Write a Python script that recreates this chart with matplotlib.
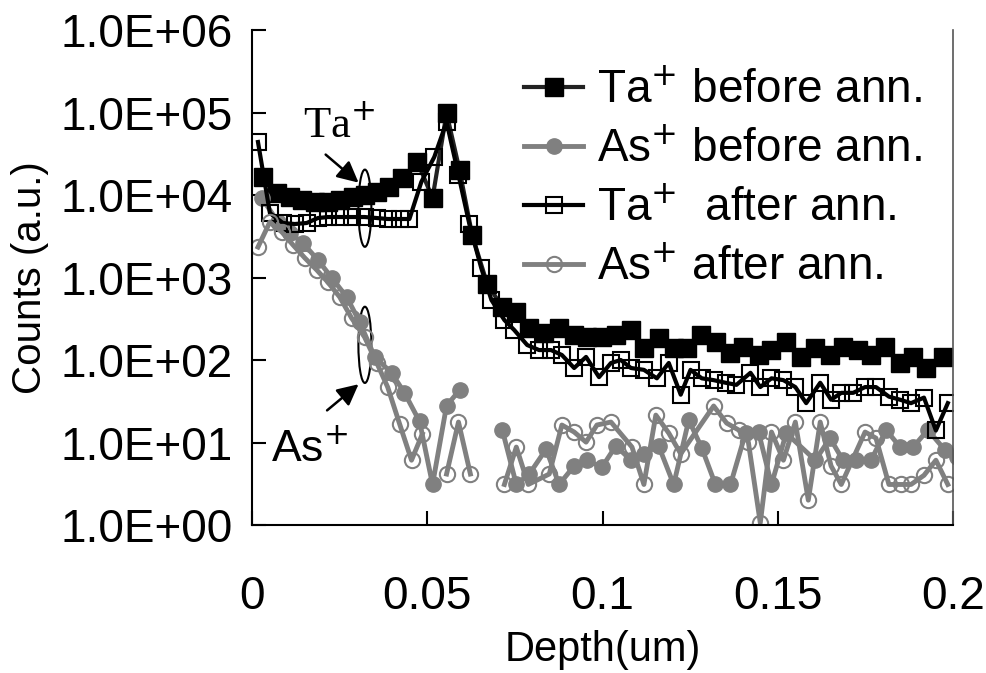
import matplotlib
matplotlib.use("Agg")
import numpy as np
from matplotlib import pyplot as plt
from matplotlib.patches import Ellipse
from matplotlib.ticker import FixedLocator, FuncFormatter

plt.rcParams['font.family'] = ['Liberation Sans', 'DejaVu Sans']

# Ta+ before annealing (filled black squares)
ta_before_depth = [0.0031, 0.0071, 0.0108, 0.0142, 0.0179, 0.0216, 0.0250, 0.0287, 0.0321, 0.0356,
                   0.0392, 0.0429, 0.0472, 0.0515, 0.0555, 0.0592, 0.0628, 0.0671, 0.0714, 0.0754,
                   0.0791, 0.0833, 0.0876, 0.0919, 0.0956, 0.0998, 0.1038, 0.1081, 0.1118, 0.1160,
                   0.1203, 0.1240, 0.1280, 0.1325, 0.1365, 0.1402, 0.1445, 0.1482, 0.1524, 0.1567,
                   0.1607, 0.1649, 0.1686, 0.1729, 0.1766, 0.1806, 0.1849, 0.1886, 0.1923, 0.1971]
ta_before = [16500, 10600, 9450, 8700, 8220, 8220, 8700, 9450, 10000, 10900,
             12500, 16100, 25100, 9200, 98600, 20100, 3270, 834, 439, 382,
             244, 212, 244, 201, 190, 190, 201, 231, 140, 185,
             140, 140, 201, 165, 122, 144, 115, 132, 165, 109,
             140, 115, 144, 132, 115, 144, 92, 109, 80, 109]

# As+ before annealing (filled grey circles); gap where no counts
as_before_depth = [0.0028, 0.0074, 0.0108, 0.0145, 0.0188, 0.0228, 0.0270, 0.0307, 0.0350, 0.0398,
                   0.0435, 0.0478, 0.0515, 0.0555, 0.0592, 0.0650, 0.0714, 0.0754, 0.0791, 0.0839,
                   0.0876, 0.0919, 0.0956, 0.0998, 0.1038, 0.1081, 0.1118, 0.1160, 0.1203, 0.1246,
                   0.1283, 0.1322, 0.1365, 0.1408, 0.1445, 0.1482, 0.1524, 0.1607, 0.1649, 0.1686,
                   0.1723, 0.1766, 0.1809, 0.1849, 0.1886, 0.1928, 0.1977, 0.2010]
as_before = [9200, 4710, 3460, 2620, 1630, 986, 581, 289, 109, 70,
             40, 18, 3.1, 28, 43, np.nan, 14.2, 3.1, 4.15, 8.3,
             3.1, 5.2, 6.1, 5.0, 9.1, 6.1, 7.3, 9.1, 3.1, 18.7,
             8.6, 3.1, 3.1, 13, 13.4, 3.1, 13, 6.1, 11.3, 6.1,
             6.1, 6.1, 14.2, 8.8, 8.8, 14.2, 8.1, 6.7]

# Ta+ after annealing (open squares)
ta_after_depth = [0.0017, 0.0051, 0.0088, 0.0122, 0.0156, 0.0188, 0.0216, 0.0250, 0.0284, 0.0321,
                  0.0356, 0.0387, 0.0421, 0.0449, 0.0483, 0.0520, 0.0555, 0.0589, 0.0620, 0.0654,
                  0.0683, 0.0720, 0.0748, 0.0785, 0.0819, 0.0853, 0.0884, 0.0919, 0.0953, 0.0990,
                  0.1024, 0.1052, 0.1081, 0.1118, 0.1155, 0.1189, 0.1223, 0.1251, 0.1283, 0.1317,
                  0.1351, 0.1382, 0.1422, 0.1450, 0.1482, 0.1516, 0.1550, 0.1581, 0.1621, 0.1652,
                  0.1681, 0.1715, 0.1749, 0.1780, 0.1817, 0.1849, 0.1880, 0.1917, 0.1951, 0.1985]
ta_after = [43900, 6050, 4580, 4450, 4580, 5260, 5410, 5410, 5410, 5410,
            5260, 5120, 5120, 5120, 14400, 28900, 76700, 17500, 4450, 1300,
            534, 305, 231, 152, 132, 132, 115, 80, 109, 62,
            92, 100, 80, 76, 60, 92, 38, 76, 60, 57,
            53, 50, 70, 47, 60, 57, 47, 30, 53, 33,
            40, 40, 47, 47, 36, 33, 30, 35, 14, 30]

# As+ after annealing (open grey circles); gaps where no counts
as_after_depth = [0.0017, 0.0051, 0.0085, 0.0117, 0.0151, 0.0185, 0.0216, 0.0250, 0.0284, 0.0321,
                  0.0356, 0.0387, 0.0421, 0.0455, 0.0486, 0.0520, 0.0555, 0.0589, 0.0623, 0.0670,
                  0.0720, 0.0754, 0.0788, 0.0848, 0.0884, 0.0919, 0.0953, 0.0984, 0.1024, 0.1084,
                  0.1118, 0.1152, 0.1189, 0.1223, 0.1317, 0.1354, 0.1388, 0.1416, 0.1450, 0.1482,
                  0.1516, 0.1550, 0.1587, 0.1621, 0.1652, 0.1681, 0.1749, 0.1780, 0.1817, 0.1851,
                  0.1880, 0.1917, 0.1951, 0.1985]
as_after = [2340, 4710, 3560, 2480, 1720, 1230, 882, 581, 323, 190,
            92, 47, 16.8, 6.1, 12.7, np.nan, 4.15, 17.7, 4.15, np.nan,
            3.1, 8.8, 3.1, 4.15, 16.3, 13.4, 10.1, 16.3, 17.7, 8.8,
            3.1, 21.5, 13, 7.3, 27.7, 17.2, 14.2, 10.1, 1.06, 13.4,
            6.1, 17.7, 2.0, 17.7, 5.2, 3.1, 13.4, 11.3, 3.1, 3.1,
            3.1, 4.0, 6.1, 3.1]

x_ticks = [0, 0.05, 0.1, 0.15, 0.2]
x_tick_labels = ['0', '0.05', '0.1', '0.15', '0.2']
y_ticks = [1, 10, 100, 1e3, 1e4, 1e5, 1e6]

grey = '#808080'

fig = plt.figure(figsize=(9.86, 6.73), dpi=100)
ax = fig.add_axes([0.2556, 0.2199, 0.7110, 0.7355])

ax.plot(ta_before_depth, ta_before, '-', color='#222222', lw=3, marker='s', ms=12.5,
        mfc='black', mec='black', label='Ta$^{+}$ before ann.', clip_on=False)
ax.plot(as_before_depth, as_before, '-', color=grey, lw=3.5, marker='o', ms=11,
        mfc=grey, mec=grey, label='As$^{+}$ before ann.')
ax.plot(ta_after_depth, ta_after, '-', color='black', lw=3, marker='s', ms=12,
        mfc='none', mec='black', mew=1.5, label='Ta$^{+}$  after ann.')
ax.plot(as_after_depth, as_after, '-', color=grey, lw=3.5, marker='o', ms=11,
        mfc='none', mec=grey, mew=1.5, label='As$^{+}$ after ann.')

ax.set_yscale('log')
ax.set_xlim(0, 0.2)
ax.set_ylim(1, 1e6)
ax.xaxis.set_major_locator(FixedLocator(x_ticks))
ax.set_xticklabels(x_tick_labels)
ax.yaxis.set_major_locator(FixedLocator(y_ticks))
ax.yaxis.set_minor_locator(FixedLocator([]))
ax.yaxis.set_major_formatter(FuncFormatter(lambda v, p: '1.0E+%02d' % round(np.log10(v))))

ax.tick_params(axis='both', direction='in', length=10, width=1.5, labelsize=33)
ax.tick_params(axis='x', pad=36)
ax.tick_params(axis='y', pad=14)
ax.spines['top'].set_visible(False)
ax.spines['right'].set_color('#555555')
ax.spines['right'].set_linewidth(1.2)
ax.spines['left'].set_linewidth(1.5)
ax.spines['bottom'].set_linewidth(1.5)

ax.set_xlabel('Depth(um)', fontsize=30, labelpad=8)
ax.set_ylabel('Counts (a.u.)', fontsize=29, labelpad=8)

leg = ax.legend(loc='upper right', bbox_to_anchor=(0.995, 0.977), frameon=False, fontsize=33,
                handlelength=1.3, handletextpad=0.3, labelspacing=0.33, borderaxespad=0.2)

# annotations: ellipses marking the Ta+ and As+ profiles
ax.add_patch(Ellipse((0.161, 0.640), 0.0185, 0.156, transform=ax.transAxes,
                     fill=False, ec='black', lw=1.5))
ax.add_patch(Ellipse((0.161, 0.364), 0.0185, 0.154, transform=ax.transAxes,
                     fill=False, ec='black', lw=1.5))
ax.annotate('', xy=(0.155, 0.688), xytext=(0.102, 0.752), xycoords='axes fraction',
            arrowprops=dict(arrowstyle='-|>', color='black', lw=1.8, mutation_scale=32))
ax.annotate('', xy=(0.155, 0.288), xytext=(0.104, 0.228), xycoords='axes fraction',
            arrowprops=dict(arrowstyle='-|>', color='black', lw=1.8, mutation_scale=32))
ax.text(0.073, 0.805, 'Ta$^{+}$', transform=ax.transAxes, fontsize=32,
        family=['Liberation Serif', 'DejaVu Serif'], ha='left', va='center')
ax.text(0.027, 0.150, 'As$^{+}$', transform=ax.transAxes, fontsize=32,
        ha='left', va='center')

fig.savefig('out.png', dpi=100)
